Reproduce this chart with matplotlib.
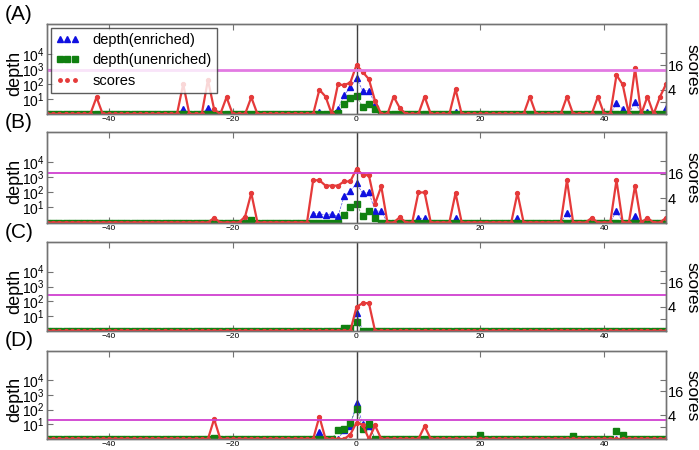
import numpy as np
import matplotlib
matplotlib.use('Agg')
import matplotlib.pyplot as plt
from matplotlib.lines import Line2D
from matplotlib.ticker import NullLocator, FixedLocator, FixedFormatter

plt.rcParams['font.family'] = ['Liberation Sans', 'DejaVu Sans']
plt.rcParams['mathtext.fontset'] = 'custom'
plt.rcParams['mathtext.rm'] = 'Liberation Sans'
plt.rcParams['mathtext.it'] = 'Liberation Sans:italic'
plt.rcParams['mathtext.bf'] = 'Liberation Sans:bold'

# ---------------- data ----------------
positions = np.arange(-50, 51)
panel_labels = ['(A)', '(B)', '(C)', '(D)']
x_ticks = [-40, -20, 0, 20, 40]
depth_ticks = [10, 100, 1000, 10000]
score_ticks = [2, 4, 16, 32]
score_tick_labels = ['', '4', '16', '']
thresholds = [12, 17, 8, 3.1]

# Panel A (values at listed positions; all others at baseline 1)
A_score_pos = [-42, -28, -24, -23, -21, -17, -6, -5, -3, -2, -1, 0, 1, 2, 3, 6, 7, 11, 16, 28, 34, 39, 42, 43, 45, 47, 49, 50]
A_score_val = [2.6, 5.5, 7.0, 1.3, 2.6, 2.6, 4.0, 2.7, 5.4, 5.2, 6.0, 16.3, 11.0, 7.3, 2.1, 2.7, 1.4, 2.7, 4.1, 2.7, 2.7, 2.7, 9.2, 5.4, 13.5, 2.7, 2.6, 5.5]
A_enr_pos = [-28, -24, -6, -3, -2, -1, 0, 1, 2, 3, 16, 42, 43, 45, 47, 50]
A_enr_val = [2.2, 2.6, 1.4, 2.2, 18, 60, 240, 36, 36, 4.6, 1.4, 5.2, 2.1, 6.6, 1.4, 2.6]
A_unenr_pos = [-3, -2, -1, 0, 1, 2, 3]
A_unenr_val = [1.2, 4.4, 11, 15, 3.1, 4.8, 2.3]

# Panel B
B_score_pos = [-23, -18, -17, -7, -6, -5, -4, -3, -2, -1, 0, 1, 2, 3, 4, 7, 10, 11, 16, 26, 34, 38, 42, 45, 47, 50]
B_score_val = [1.3, 1.4, 5.3, 11, 11, 8.1, 8.1, 8.1, 10.3, 10.3, 21, 15, 14.5, 2.9, 7.8, 1.35, 5.5, 5.5, 5.3, 5.3, 11, 1.3, 11, 8.1, 1.3, 1.3]
B_enr_pos = [-23, -18, -7, -6, -5, -4, -3, -2, -1, 0, 1, 2, 3, 4, 7, 10, 11, 16, 26, 34, 42, 45]
B_enr_val = [1.2, 1.5, 3.8, 3.8, 3.2, 3.8, 2.5, 55, 120, 400, 85, 100, 6, 5.4, 1.3, 1.9, 1.9, 1.9, 1.9, 4.2, 6, 2.7]
B_unenr_pos = [-17, -2, -1, 0, 1, 2, 3]
B_unenr_val = [1.4, 3.2, 10.6, 17, 2.5, 5.4, 2.1]

# Panel C
C_score_pos = [0, 1, 2]
C_score_val = [4.0, 5.0, 5.0]
C_enr_pos = [0]
C_enr_val = [17]
C_unenr_pos = [-2, -1, 0]
C_unenr_val = [1.5, 1.7, 4.0]

# Panel D
D_score_pos = [-23, -6, -1, 0, 1, 3, 11]
D_score_val = [3.2, 3.7, 1.3, 2.6, 2.3, 2.2, 2.1]
D_enr_pos = [-6, -2, -1, 0, 1, 2]
D_enr_val = [3.2, 4.0, 8.0, 300, 10, 8.0]
D_unenr_pos = [-23, -3, -2, -1, 0, 1, 2, 20, 35, 42, 43]
D_unenr_val = [1.1, 3.9, 4.5, 13, 120, 5.0, 10, 1.9, 1.5, 3.3, 1.9]

panels = [
    (A_score_pos, A_score_val, A_enr_pos, A_enr_val, A_unenr_pos, A_unenr_val),
    (B_score_pos, B_score_val, B_enr_pos, B_enr_val, B_unenr_pos, B_unenr_val),
    (C_score_pos, C_score_val, C_enr_pos, C_enr_val, C_unenr_pos, C_unenr_val),
    (D_score_pos, D_score_val, D_enr_pos, D_enr_val, D_unenr_pos, D_unenr_val),
]


def full(pos, val):
    arr = np.ones(len(positions))
    arr[np.asarray(pos, dtype=int) - positions[0]] = val
    return arr


# ---------------- figure ----------------
W, H = 699, 450
fig = plt.figure(figsize=(W / 100, H / 100), dpi=100)

left_px, right_px = 47, 666
tops = [24, 132, 242, 351]
bottoms = [114, 222.5, 331, 439]

RED = '#e53a3a'
BLUE = '#1010e0'
GREEN = '#108010'
PINKS = ['#e27ae2', '#d040d0', '#d040d0', '#d040d0']
SPINE = '0.45'
axw = right_px - left_px

for i, (sp, sv, ep, ev, up, uv) in enumerate(panels):
    rect = [left_px / W, 1 - bottoms[i] / H, axw / W, (bottoms[i] - tops[i]) / H]
    ax = fig.add_axes(rect)
    ax2 = ax.twinx()

    enr = full(ep, ev)
    unenr = full(up, uv)
    score = full(sp, sv)

    ax.plot(positions, enr, '--', color=BLUE, lw=0.5, alpha=0.7)
    ax.plot(positions, unenr, '--', color=GREEN, lw=0.5, alpha=0.7)
    ax.plot(positions, enr, linestyle='none', marker='^', color=BLUE, ms=5, mec=BLUE)
    ax.plot(positions, unenr, linestyle='none', marker='s', color=GREEN, ms=4, mec=GREEN)
    ax.set_yscale('log')
    ax.set_ylim(1, 1e6)
    ax.set_xlim(-50, 50)
    ax.axvline(0, color='0.25', lw=1.0)

    ax2.plot(positions, score, '-', color=RED, lw=1.6, marker='o', ms=2.8, mec=RED)
    ax2.axhline(thresholds[i], color=PINKS[i], lw=2.0 if i == 0 else 1.3)
    ax2.set_yscale('log', base=2)
    ax2.set_ylim(1, 170)

    ax.yaxis.set_major_locator(FixedLocator(depth_ticks))
    ax.yaxis.set_minor_locator(NullLocator())
    ax.set_yticklabels(['$10^{1}$', '$10^{2}$', '$10^{3}$', '$10^{4}$'])
    ax.set_xticks(x_ticks)
    ax.set_xticklabels(['\u221240', '\u221220', '0', '20', '40'])
    ax2.yaxis.set_major_locator(FixedLocator(score_ticks))
    ax2.yaxis.set_major_formatter(FixedFormatter(score_tick_labels))
    ax2.yaxis.set_minor_locator(NullLocator())

    ax.tick_params(axis='x', which='both', direction='in', top=True, labelsize=6,
                   length=4, color=SPINE, pad=1.5)
    ax.tick_params(axis='y', direction='in', labelsize=10, length=4, color=SPINE, pad=2)
    ax2.tick_params(axis='y', direction='in', labelsize=10.5, length=4, color=SPINE, pad=1)
    for a in (ax, ax2):
        for s in a.spines.values():
            s.set_color(SPINE)
            s.set_linewidth(1.0)

    ax.set_ylabel('depth', fontsize=13, va='center')
    ax.yaxis.set_label_coords((15 - left_px) / axw, 0.45)
    ax2.set_ylabel('scores', fontsize=12.5, rotation=270, va='center')
    ax2.yaxis.set_label_coords((692 - left_px) / axw, 0.49)

    fig.text(5 / W, 1 - (tops[i] - 10) / H, panel_labels[i], fontsize=15, va='center', ha='left')

    if i == 0:
        handles = [
            Line2D([], [], linestyle='none', marker='^', color=BLUE, ms=5),
            Line2D([], [], linestyle='none', marker='s', color=GREEN, ms=4),
            Line2D([], [], linestyle='none', marker='o', color=RED, ms=2.5),
        ]
        leg = ax2.legend(handles, ['depth(enriched)', 'depth(unenriched)', 'scores'],
                         loc='upper left', numpoints=3, fontsize=10.5, frameon=True,
                         fancybox=False, borderaxespad=0.25, handlelength=1.6,
                         handletextpad=0.9, labelspacing=0.45, borderpad=0.35)
        leg.get_frame().set_edgecolor('0.2')
        leg.get_frame().set_linewidth(1.0)

fig.savefig('out.png', dpi=100)
